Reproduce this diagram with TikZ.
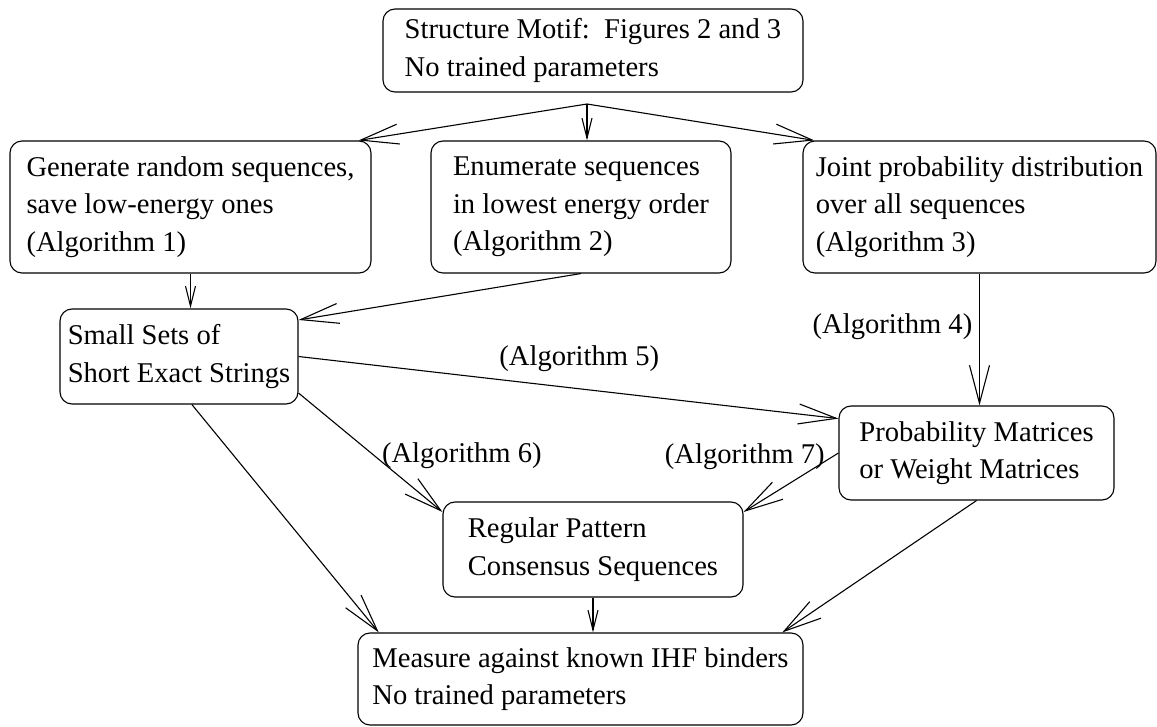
\documentclass[tikz,border=0pt]{standalone}
\usepackage{fontspec}
\setmainfont{Liberation Serif}
\usetikzlibrary{arrows.meta}

\begin{document}
\begin{tikzpicture}[x=0.5pt, y=-0.5pt, line width=0.55pt,
  box/.style={draw, rounded corners=6pt, align=left, inner sep=0pt,
    font=\fontsize{14.3}{18.75}\selectfont},
  lbl/.style={font=\fontsize{14.3}{18.75}\selectfont},
  bigarr/.style={-{Straight Barb[length=19pt, width=10pt]}},
  shortarr/.style={-{Straight Barb[length=10pt, width=5pt]}}]
  \useasboundingbox (0,0) rectangle (1157,727);
  \node[box, minimum width=210pt, minimum height=41.5pt] (motif) at (593,50.5) {Structure Motif:\ \ Figures 2 and 3\\No trained parameters};
  \node[box, minimum width=180.5pt, minimum height=66pt] (gen) at (190.5,207) {Generate random sequences,\\save low-energy ones\\(Algorithm 1)};
  \node[box, minimum width=150pt, minimum height=66pt] (enum) at (581,207) {Enumerate sequences\\in lowest energy order\\(Algorithm 2)};
  \node[box, minimum width=176.5pt, minimum height=66pt] (joint) at (979.5,207) {Joint probability distribution\\over all sequences\\(Algorithm 3)};
  \node[box, minimum width=119pt, minimum height=47.5pt] (small) at (179,356.5) {Small Sets of\\Short Exact Strings};
  \node[box, minimum width=137.5pt, minimum height=47pt] (prob) at (976.5,453) {Probability Matrices\\or Weight Matrices};
  \node[box, minimum width=150pt, minimum height=47.5pt] (reg) at (593,549.5) {Regular Pattern\\Consensus Sequences};
  \node[box, minimum width=222.5pt, minimum height=46pt] (meas) at (580.5,679) {Measure against known IHF binders\\No trained parameters};
  \coordinate (fan) at (587,104);
  \draw[bigarr] (fan) -- ([xshift=-6.5pt]gen.north east);
  \draw[shortarr] (fan) -- (fan |- enum.north);
  \draw[bigarr] (fan) -- ([xshift=6pt]joint.north west);
  \draw[shortarr] (gen.south) -- (gen.south |- small.north);
  \draw[bigarr] (enum.south) -- (small.17);
  \draw[bigarr] (joint.south) -- (joint.south |- prob.north) node[lbl, pos=0.4, left] (a4) {(Algorithm 4)};
  \draw[bigarr] (small.east) -- (prob.166) node[lbl, pos=0.52, above=5pt] (a5) {(Algorithm 5)};
  \draw[bigarr] (small.-17) -- (reg.166) node[lbl, pos=0.53, right] (a6) {(Algorithm 6)};
  \draw[bigarr] (prob.west) -- (reg.14) node[lbl, pos=0.07, left] (a7) {(Algorithm 7)};
  \draw[bigarr] (small.-75) -- (meas.167);
  \draw[shortarr] (reg.south) -- (reg.south |- meas.north);
  \draw[bigarr] (prob.south) -- (meas.13);
\end{tikzpicture}
\end{document}
